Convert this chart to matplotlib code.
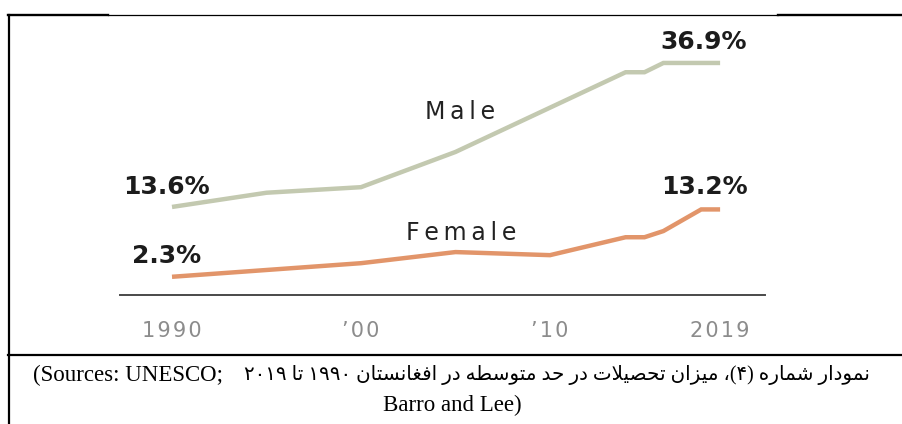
import matplotlib
matplotlib.use("Agg")
import matplotlib.pyplot as plt
from matplotlib.lines import Line2D

# data
male_years = [1990, 1995, 2000, 2005, 2014, 2015, 2016, 2019]
male_vals = [13.6, 15.9, 16.8, 22.5, 35.4, 35.4, 36.9, 36.9]
female_years = [1990, 1995, 2000, 2005, 2010, 2014, 2015, 2016, 2018, 2019]
female_vals = [2.3, 3.4, 4.5, 6.3, 5.8, 8.7, 8.7, 9.7, 13.2, 13.2]
tick_years = [1990, 2000, 2010, 2019]
tick_labels = ["1990", "\u201900", "\u201910", "2019"]

caption_fa = "نمودار شماره (۴)، میزان تحصیلات در حد متوسطه در افغانستان ۱۹۹۰ تا ۲۰۱۹"
caption_en1 = "(Sources: UNESCO;"
caption_en2 = "Barro and Lee)"

# tiny arabic shaper (matplotlib does no shaping / bidi)
FORMS = {
    "\u0627": ("\uFE8D", "\uFE8E", None, None),
    "\u062A": ("\uFE95", "\uFE96", "\uFE97", "\uFE98"),
    "\u062D": ("\uFEA1", "\uFEA2", "\uFEA3", "\uFEA4"),
    "\u062F": ("\uFEA9", "\uFEAA", None, None),
    "\u0631": ("\uFEAD", "\uFEAE", None, None),
    "\u0632": ("\uFEAF", "\uFEB0", None, None),
    "\u0633": ("\uFEB1", "\uFEB2", "\uFEB3", "\uFEB4"),
    "\u0634": ("\uFEB5", "\uFEB6", "\uFEB7", "\uFEB8"),
    "\u0635": ("\uFEB9", "\uFEBA", "\uFEBB", "\uFEBC"),
    "\u0637": ("\uFEC1", "\uFEC2", "\uFEC3", "\uFEC4"),
    "\u063A": ("\uFECD", "\uFECE", "\uFECF", "\uFED0"),
    "\u0641": ("\uFED1", "\uFED2", "\uFED3", "\uFED4"),
    "\u0644": ("\uFEDD", "\uFEDE", "\uFEDF", "\uFEE0"),
    "\u0645": ("\uFEE1", "\uFEE2", "\uFEE3", "\uFEE4"),
    "\u0646": ("\uFEE5", "\uFEE6", "\uFEE7", "\uFEE8"),
    "\u0647": ("\uFEE9", "\uFEEA", "\uFEEB", "\uFEEC"),
    "\u0648": ("\uFEED", "\uFEEE", None, None),
    "\u06CC": ("\uFBFC", "\uFBFD", "\uFBFE", "\uFBFF"),
}
MIRROR = {"(": ")", ")": "("}


def shape(word):
    out = []
    i = 0
    while i < len(word):
        c = word[i]
        prev = word[i - 1] if i > 0 else None
        join_prev = prev in FORMS and FORMS[prev][2] is not None
        if c == "\u0644" and i + 1 < len(word) and word[i + 1] == "\u0627":
            out.append("\uFEFC" if join_prev else "\uFEFB")
            i += 2
            continue
        if c not in FORMS:
            out.append(c)
            i += 1
            continue
        nxt = word[i + 1] if i + 1 < len(word) else None
        join_next = nxt in FORMS and FORMS[c][2] is not None
        iso, fin, ini, med = FORMS[c]
        if join_prev and join_next:
            out.append(med)
        elif join_prev:
            out.append(fin)
        elif join_next:
            out.append(ini)
        else:
            out.append(iso)
        i += 1
    return "".join(out)


def visual(token):
    rev = [MIRROR.get(ch, ch) for ch in reversed(shape(token))]
    # digits keep left-to-right order
    res, run = [], []
    for ch in rev:
        if "\u06F0" <= ch <= "\u06F9":
            run.append(ch)
        else:
            res.extend(reversed(run))
            run = []
            res.append(ch)
    res.extend(reversed(run))
    return "".join(res)


def spaced(s, gap="\u2009"):
    # poor man's letter spacing
    return gap.join(s)


fa_visual = " ".join(visual(t) for t in reversed(caption_fa.split(" ")))

W, H = 903, 424
fig = plt.figure(figsize=(W / 100, H / 100), dpi=100, facecolor="white")

# axes placed so 1990 sits at x=172px, 18.9 px per year
x0, ppy = 172, 18.9
y0, ppv = 291, 6.18
left_px, right_px, bot_px, top_px = 120, 765, 295, 20
ax = fig.add_axes([left_px / W, 1 - bot_px / H, (right_px - left_px) / W, (bot_px - top_px) / H])
ax.set_xlim(1990 + (left_px - x0) / ppy, 1990 + (right_px - x0) / ppy)
ax.set_ylim((y0 - bot_px) / ppv, (y0 - top_px) / ppv)

male_col = "#c3c9b0"
female_col = "#e2956a"
ax.plot(male_years, male_vals, color=male_col, lw=3.2, solid_joinstyle="miter", solid_capstyle="butt")
ax.plot(female_years, female_vals, color=female_col, lw=3.2, solid_joinstyle="miter", solid_capstyle="butt")

for s in ["top", "right", "left"]:
    ax.spines[s].set_visible(False)
ax.spines["bottom"].set_color("#4a4a4a")
ax.spines["bottom"].set_linewidth(1.4)
ax.set_yticks([])
ax.set_xticks(tick_years)
ax.set_xticklabels([spaced(t, "\u200a") for t in tick_labels], fontfamily="DejaVu Sans",
                   fontsize=15, color="#8c8c8c")
ax.tick_params(axis="x", length=0, pad=19)

num_font = dict(fontfamily="DejaVu Sans", fontsize=18, fontweight="bold", color="#1c1c1c",
                ha="center", va="center", textcoords="offset pixels")
ax.annotate(f"{male_vals[0]}%", xy=(male_years[0], male_vals[0]), xytext=(-6, 20), **num_font)
ax.annotate(f"{female_vals[0]}%", xy=(female_years[0], female_vals[0]), xytext=(-5, 21), **num_font)
ax.annotate(f"{male_vals[-1]}%", xy=(male_years[-1], male_vals[-1]), xytext=(-16, 21), **num_font)
ax.annotate(f"{female_vals[-1]}%", xy=(female_years[-1], female_vals[-1]), xytext=(-16, 22), **num_font)

ax.text(2005.25, 28.9, spaced("Male"), fontfamily="DejaVu Sans", fontsize=17, color="#222222",
        ha="center", va="center")
ax.text(2005.3, 9.4, spaced("Female"), fontfamily="DejaVu Sans", fontsize=17, color="#222222",
        ha="center", va="center")

# frame lines of the document table
def hline(x1, x2, y, lw):
    fig.add_artist(Line2D([x1 / W, x2 / W], [1 - y / H, 1 - y / H], color="black", lw=lw))

hline(8, 108, 15.3, 1.7)
hline(108, 778, 14.7, 0.9)
hline(778, 903, 15.3, 1.7)
hline(8, 903, 355, 1.6)
fig.add_artist(Line2D([8.5 / W, 8.5 / W], [1 - 14.5 / H, 0], color="black", lw=1.6))

fig.text(33 / W, 1 - 375 / H, caption_en1, ha="left", va="center",
         fontsize=16.5, family=["Liberation Serif", "DejaVu Sans"], color="black")
fig.text(870 / W, 1 - 375 / H, fa_visual, ha="right", va="center",
         fontsize=14.3, family=["Liberation Serif", "DejaVu Sans"], color="black")
fig.text(452 / W, 1 - 405 / H, caption_en2, ha="center", va="center",
         fontsize=16.5, family=["Liberation Serif", "DejaVu Sans"], color="black")

fig.savefig("out.png", dpi=100, facecolor="white")
